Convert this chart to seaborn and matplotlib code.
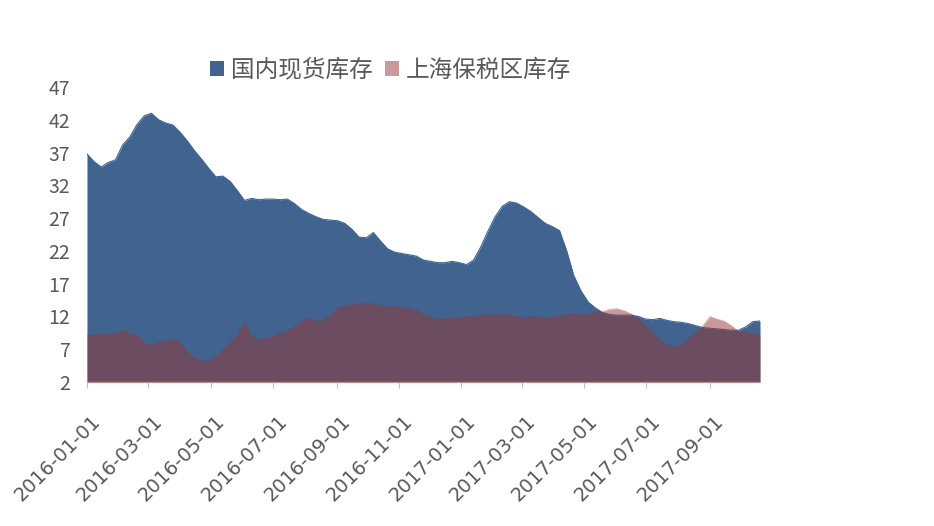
import numpy as np
import pandas as pd
import matplotlib
matplotlib.use("Agg")
import matplotlib.pyplot as plt
import matplotlib.dates as mdates
import matplotlib.transforms as mtrans
from matplotlib.patches import Patch
import seaborn as sns

# ---- data (weekly) ----
dates = pd.date_range("2016-01-01", periods=95, freq="7D")

domestic = [36.8, 35.6, 34.8, 35.5, 35.9, 38.2, 39.4, 41.3, 42.6, 43.0,
            42.0, 41.5, 41.2, 40.1, 38.8, 37.3, 36.0, 34.6, 33.3, 33.4,
            32.6, 31.2, 29.7, 30.0, 29.8, 29.9, 29.9, 29.8, 29.9, 29.2,
            28.3, 27.7, 27.2, 26.8, 26.7, 26.6, 26.2, 25.3, 24.1, 24.0,
            24.8, 23.5, 22.3, 21.8, 21.6, 21.4, 21.2, 20.6, 20.4, 20.2,
            20.2, 20.4, 20.2, 19.9, 20.6, 22.6, 25.0, 27.2, 28.8, 29.5,
            29.3, 28.7, 28.0, 27.1, 26.2, 25.7, 25.1, 22.0, 18.2, 15.9,
            14.2, 13.3, 12.6, 12.3, 12.2, 12.2, 12.2, 12.0, 11.6, 11.5,
            11.7, 11.4, 11.2, 11.1, 10.9, 10.6, 10.3, 10.2, 10.1, 10.0,
            9.9, 9.9, 10.4, 11.2, 11.3]

bonded = [9.2, 9.2, 9.4, 9.4, 9.5, 9.9, 9.4, 9.2, 8.0, 7.6,
          8.1, 8.3, 8.6, 8.0, 6.6, 5.7, 5.2, 5.3, 5.8, 7.0,
          8.1, 9.2, 11.2, 9.0, 8.4, 8.7, 9.0, 9.5, 9.8, 10.5,
          11.3, 11.8, 11.2, 11.4, 12.2, 13.3, 13.7, 13.8, 14.0, 14.1,
          13.9, 13.7, 13.6, 13.5, 13.4, 13.3, 13.0, 12.3, 12.0, 11.6,
          11.7, 11.8, 11.9, 12.0, 12.1, 12.2, 12.3, 12.3, 12.2, 12.3,
          12.0, 11.8, 12.0, 11.9, 11.8, 12.0, 12.1, 12.3, 12.5, 12.2,
          12.4, 12.6, 12.8, 13.1, 13.2, 12.9, 12.4, 11.6, 10.6, 9.5,
          8.4, 7.7, 7.4, 7.7, 8.6, 9.6, 10.6, 12.0, 11.6, 11.3,
          10.6, 9.7, 9.7, 9.5, 9.2]

series_names = ["国内现货库存", "上海保税区库存"]
y_ticks = [2, 7, 12, 17, 22, 27, 32, 37, 42, 47]
x_ticks = pd.to_datetime(["2016-01-01", "2016-03-01", "2016-05-01", "2016-07-01",
                          "2016-09-01", "2016-11-01", "2017-01-01", "2017-03-01",
                          "2017-05-01", "2017-07-01", "2017-09-01"])

df = pd.DataFrame({"date": dates, series_names[0]: domestic, series_names[1]: bonded})

# ---- style ----
sns.set_theme(style="white")
plt.rcParams["font.family"] = ["Noto Sans CJK SC", "DejaVu Sans"]

blue = "#41638F"
red = "#953735"
gray = "#595959"

fig = plt.figure(figsize=(9.34, 5.26), dpi=100)
ax = fig.add_axes([0.0931, 0.2738, 0.7206, 0.5608])

ax.fill_between(df["date"], 0, df[series_names[0]], color=blue, lw=0, zorder=1)
sns.lineplot(data=df, x="date", y=series_names[0], ax=ax, color=blue, lw=0.8, zorder=2)
ax.fill_between(df["date"], 0, df[series_names[1]], color=red, alpha=0.5, lw=0, zorder=3)
sns.lineplot(data=df, x="date", y=series_names[1], ax=ax, color=red, alpha=0.3, lw=0.6, zorder=4)

ax.set_ylim(2, 47)
ax.set_xlim(dates[0], dates[-1])
ax.set_yticks(y_ticks)
ax.set_xticks(x_ticks)
ax.xaxis.set_major_formatter(mdates.DateFormatter("%Y-%m-%d"))
ax.set_xlabel("")
ax.set_ylabel("")

for s in ["top", "right", "left"]:
    ax.spines[s].set_visible(False)
ax.spines["bottom"].set_color("#D9D9D9")
ax.spines["bottom"].set_linewidth(1.0)

ax.tick_params(axis="y", length=0, pad=12, labelsize=14, labelcolor=gray)
ax.tick_params(axis="x", direction="out", length=4, width=0.8, color="#BFBFBF",
               pad=22, labelsize=14, labelcolor=gray, bottom=True)

offset = mtrans.ScaledTranslation(11 / 100, 0, fig.dpi_scale_trans)
for lab in ax.get_xticklabels():
    lab.set_rotation(45)
    lab.set_ha("right")
    lab.set_va("center")
    lab.set_rotation_mode("anchor")
    lab.set_transform(lab.get_transform() + offset)
    lab.set_family(["DejaVu Sans"])

handles = [Patch(facecolor=blue, edgecolor="none"),
           Patch(facecolor=red, alpha=0.5, edgecolor="none")]
fig.legend(handles, series_names, loc="center", bbox_to_anchor=(0.418, 0.867),
           ncol=2, frameon=False, fontsize=17, handlelength=0.6, handleheight=0.6,
           handletextpad=0.3, columnspacing=0.5, labelcolor=gray)

fig.savefig("out.png", dpi=100)
